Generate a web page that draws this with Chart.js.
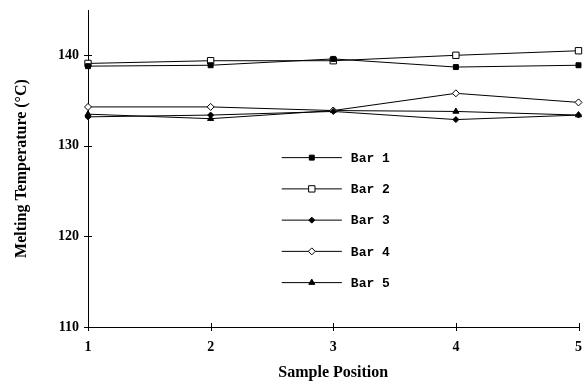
<!DOCTYPE html>
<html>
<head>
<meta charset="utf-8">
<script src="https://cdn.jsdelivr.net/npm/chart.js@4/dist/chart.umd.min.js"></script>
<style>
  html, body { margin: 0; padding: 0; background: #fff; }
  #wrap { width: 584px; height: 382px; }
</style>
</head>
<body>
<div id="wrap"><canvas id="meltChart" width="584" height="382"></canvas></div>
<script>
// Datos
const positions = ["1", "2", "3", "4", "5"];
const bar1 = [138.8, 138.9, 139.6, 138.7, 138.9];
const bar2 = [139.1, 139.4, 139.4, 140.0, 140.5];
const bar3 = [133.2, 133.4, 133.8, 132.9, 133.4];
const bar4 = [134.3, 134.3, 133.9, 135.8, 134.8];
const bar5 = [133.5, 133.0, 133.9, 133.8, 133.4];
const yTicks = [110, 120, 130, 140];

const seriesNames = ["Bar 1", "Bar 2", "Bar 3", "Bar 4", "Bar 5"];

function makeSet(label, data, style, fill, radius) {
  return {
    label: label,
    data: data,
    borderColor: "#000",
    borderWidth: 1,
    pointStyle: style,
    pointRadius: radius,
    pointBackgroundColor: fill,
    pointBorderColor: "#000",
    pointBorderWidth: 1,
    tension: 0,
    fill: false,
  };
}

/**
 * Leyenda dibujada dentro del área del gráfico
 */
const innerLegend = {
  id: "innerLegend",
  afterDraw(chart) {
    const ctx = chart.ctx;
    const xs = chart.scales.x;
    const ys = chart.scales.y;
    // posición relativa a las escalas
    const x0 = xs.getPixelForValue(1.58);
    const x1 = xs.getPixelForValue(2.07);
    ctx.save();
    chart.data.datasets.forEach(function (ds, i) {
      const y = ys.getPixelForValue(128.7 - i * 3.45);
      ctx.strokeStyle = "#000";
      ctx.lineWidth = 1;
      ctx.beginPath();
      ctx.moveTo(x0, y);
      ctx.lineTo(x1, y);
      ctx.stroke();
      ctx.fillStyle = ds.pointBackgroundColor;
      ctx.strokeStyle = "#000";
      Chart.helpers.drawPoint(ctx, {
        pointStyle: ds.pointStyle,
        radius: ds.pointRadius,
        borderWidth: 1,
      }, (x0 + x1) / 2, y);
      ctx.fillStyle = "#000";
      ctx.font = "bold 13px 'Liberation Mono'";
      ctx.textBaseline = "middle";
      ctx.fillText(ds.label, x1 + 9, y + 1);
    });
    ctx.restore();
  },
};

/**
 * Marcas de escala que cruzan los ejes
 */
const crossTicks = {
  id: "crossTicks",
  afterDraw(chart) {
    const ctx = chart.ctx;
    const xs = chart.scales.x;
    const ys = chart.scales.y;
    const area = chart.chartArea;
    ctx.save();
    ctx.strokeStyle = "#000";
    ctx.lineWidth = 1;
    ctx.beginPath();
    yTicks.forEach(function (v) {
      const y = Math.round(ys.getPixelForValue(v)) + 0.5;
      ctx.moveTo(area.left - 4, y);
      ctx.lineTo(area.left + 4, y);
    });
    positions.forEach(function (p, i) {
      const x = Math.round(xs.getPixelForValue(i)) + 0.5;
      ctx.moveTo(x, area.bottom - 4);
      ctx.lineTo(x, area.bottom + 4);
    });
    ctx.stroke();
    ctx.restore();
  },
};

document.addEventListener("DOMContentLoaded", function () {
  const ctx = document.getElementById("meltChart").getContext("2d");
  new Chart(ctx, {
    type: "line",
    data: {
      labels: positions,
      datasets: [
        makeSet(seriesNames[0], bar1, "rect", "#000", 3.5),
        makeSet(seriesNames[1], bar2, "rect", "#fff", 4.5),
        makeSet(seriesNames[2], bar3, "rectRot", "#000", 3),
        makeSet(seriesNames[3], bar4, "rectRot", "#fff", 3.5),
        makeSet(seriesNames[4], bar5, "triangle", "#000", 3.5),
      ],
    },
    options: {
      responsive: false,
      animation: false,
      devicePixelRatio: 1,
      layout: { padding: { top: 10, right: -3, left: 0, bottom: 0 } },
      plugins: {
        legend: { display: false },
        tooltip: { enabled: false },
      },
      scales: {
        x: {
          offset: false,
          grid: { display: false, drawTicks: false },
          border: { color: "#000", width: 1 },
          ticks: {
            color: "#000",
            padding: 12,
            maxRotation: 0,
            font: { family: "'Liberation Serif'", size: 14, weight: "bold" },
          },
          title: {
            display: true,
            text: "Sample Position",
            color: "#000",
            padding: { top: 3, bottom: 0 },
            font: { family: "'Liberation Serif'", size: 16, weight: "bold" },
          },
          afterFit(scale) {
            scale.height = 55;
            scale.paddingLeft = 0;
            scale.paddingRight = 0;
          },
        },
        y: {
          min: 110,
          max: 145,
          grid: { display: false, drawTicks: false },
          border: { color: "#000", width: 1 },
          afterBuildTicks(scale) {
            scale.ticks = yTicks.map(function (v) { return { value: v }; });
          },
          ticks: {
            color: "#000",
            padding: 9,
            font: { family: "'Liberation Serif'", size: 14, weight: "bold" },
          },
          title: {
            display: true,
            text: "Melting Temperature (°C)",
            color: "#000",
            padding: { top: 12, bottom: 0 },
            font: { family: "'Liberation Serif'", size: 16, weight: "bold" },
          },
          afterFit(scale) {
            scale.width = 88;
            scale.paddingTop = 0;
            scale.paddingBottom = 0;
          },
        },
      },
    },
    plugins: [innerLegend, crossTicks],
  });
});
</script>
</body>
</html>
